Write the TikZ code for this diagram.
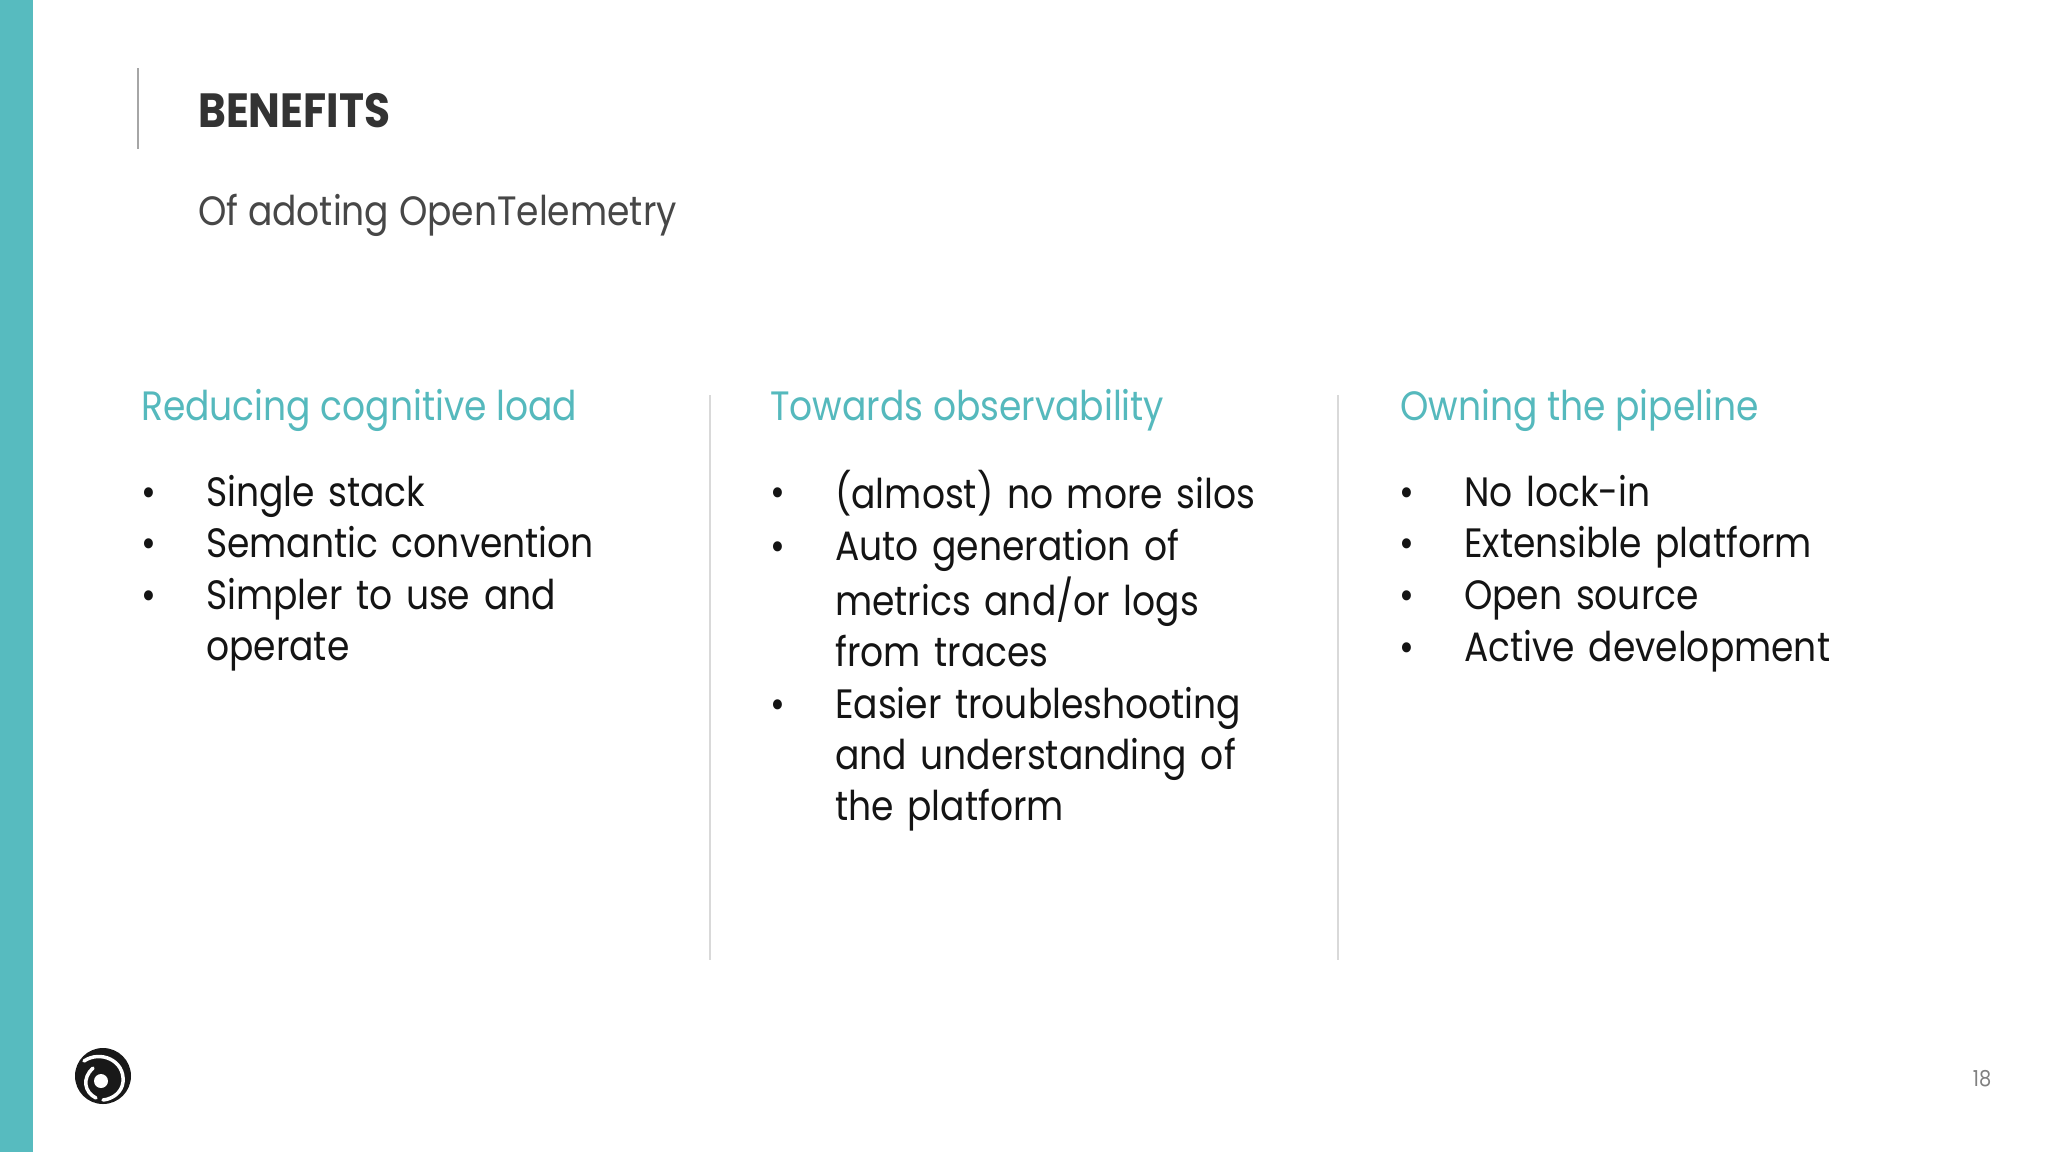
\documentclass[tikz,border=0pt]{standalone}
\usepackage{fontspec}
\usepackage{xcolor}
\setmainfont[FakeStretch=0.88]{Poppins}
\usetikzlibrary{positioning, calc}
\definecolor{tealbar}{HTML}{57BBBF}
\definecolor{tealtext}{HTML}{55B9BD}
\tikzset{
        titlebox/.style={inner sep=0pt, anchor=base west, text=black!80, font=\fontsize{48}{54}\selectfont\bfseries},
        subtitle/.style={inner sep=0pt, anchor=base west, text=black!72, font=\fontsize{41}{50}\selectfont},
        header/.style={inner sep=0pt, anchor=base west, text=tealtext, font=\fontsize{41}{50}\selectfont},
        itembox/.style={inner sep=0pt, text width=440pt, align=left, text=black!92, font=\fontsize{41}{51.3}\selectfont},
        bulletmark/.style={inner sep=0pt, anchor=north, text=black!92, font=\fontsize{41}{51.3}\selectfont},
        pagenum/.style={inner sep=0pt, text=black!50, font=\fontsize{22}{26}\selectfont},
        divider/.style={draw=black!15, line width=2pt},
    }
\begin{document}
\begin{tikzpicture}[x=1pt, y=-1pt]
        \useasboundingbox (0,0) rectangle (2048,1152);
        \fill[black!0!white] (0,0) rectangle (2048,1152);
        \fill[tealbar] (0,0) rectangle (33,1152);

        % Title
        \coordinate (ruletop) at (138,68);
        \coordinate (rulebot) at (138,149);
        \draw[black!35, line width=2pt] (ruletop) -- (rulebot);
        \node[titlebox] (title) at (198,127) {BENEFITS};
        \node[subtitle] (sub) at (198,225) {Of adoting OpenTelemetry};

        % Column headers
        \node[header] (head1) at (141,420) {Reducing cognitive load};
        \node[header] (head2) at (770,420) {Towards observability};
        \node[header] (head3) at (1400,420) {Owning the pipeline};

        % Dividers
        \coordinate (div1top) at (710,395);
        \coordinate (div1bot) at (710,960);
        \coordinate (div2top) at (1338,395);
        \coordinate (div2bot) at (1338,960);
        \draw[divider] (div1top) -- (div1bot);
        \draw[divider] (div2top) -- (div2bot);

        % First column
        \coordinate (start1) at (206,470);
        \node[itembox, below right=0pt and 0pt of start1] (a1) {\strut Single stack};
        \node[itembox, below right=0pt and 0pt of a1.south west] (a2) {\strut Semantic convention};
        \node[itembox, below right=0pt and 0pt of a2.south west] (a3) {\strut Simpler to use and\\operate\strut};
        \node[bulletmark] (ba1) at ([xshift=-57pt]a1.north west) {\strut •};
        \node[bulletmark] (ba2) at ([xshift=-57pt]a2.north west) {\strut •};
        \node[bulletmark] (ba3) at ([xshift=-57pt]a3.north west) {\strut •};

        % Second column
        \coordinate (start2) at (835,470);
        \node[itembox, below right=0pt and 0pt of start2] (b1) {\strut (almost) no more silos};
        \node[itembox, below right=0pt and 0pt of b1.south west] (b2) {\strut Auto generation of\\metrics and/or logs\\from traces\strut};
        \node[itembox, below right=0pt and 0pt of b2.south west] (b3) {\strut Easier troubleshooting\\and understanding of\\the platform\strut};
        \node[bulletmark] (bb1) at ([xshift=-57pt]b1.north west) {\strut •};
        \node[bulletmark] (bb2) at ([xshift=-57pt]b2.north west) {\strut •};
        \node[bulletmark] (bb3) at ([xshift=-57pt]b3.north west) {\strut •};

        % Third column
        \coordinate (start3) at (1464,470);
        \node[itembox, below right=0pt and 0pt of start3] (c1) {\strut No lock-in};
        \node[itembox, below right=0pt and 0pt of c1.south west] (c2) {\strut Extensible platform};
        \node[itembox, below right=0pt and 0pt of c2.south west] (c3) {\strut Open source};
        \node[itembox, below right=0pt and 0pt of c3.south west] (c4) {\strut Active development};
        \node[bulletmark] (bc1) at ([xshift=-57pt]c1.north west) {\strut •};
        \node[bulletmark] (bc2) at ([xshift=-57pt]c2.north west) {\strut •};
        \node[bulletmark] (bc3) at ([xshift=-57pt]c3.north west) {\strut •};
        \node[bulletmark] (bc4) at ([xshift=-57pt]c4.north west) {\strut •};

        % Logo
        \fill[black!90] (103,1076) circle (28);
        \draw[white, line width=3.5pt, line cap=round] (84,1061) .. controls (100,1050) and (125,1060) .. (123,1082) .. controls (122,1092) and (113,1099) .. (103,1100);
        \draw[white, line width=3.5pt, line cap=round] (93,1068) .. controls (82,1078) and (84,1092) .. (96,1098);
        \fill[white] (101,1081) circle (7);

        % Page number
        \node[pagenum] (pageno) at (1982,1079) {18};
    \end{tikzpicture}
\end{document}
